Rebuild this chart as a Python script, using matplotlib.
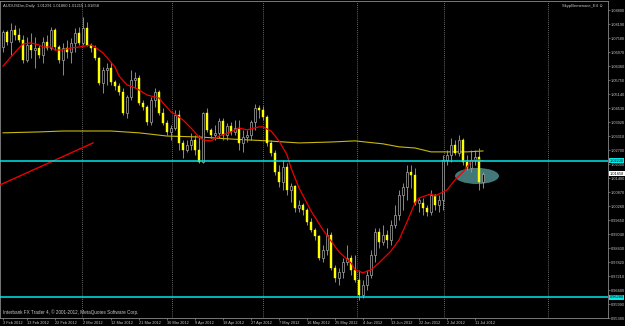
import matplotlib
matplotlib.use('Agg')
import matplotlib.pyplot as plt
from matplotlib.patches import Rectangle, Ellipse

matplotlib.rc('font', family=['Liberation Sans', 'DejaVu Sans'], size=3.0)

# daily AUDUSD candles, 3 Feb 2012 .. 13 Jul 2012
opens = [1.0719, 1.0785, 1.0741, 1.0793, 1.0772, 1.0750, 1.0663, 1.0728, 1.0706, 1.0715,
         1.0684, 1.0741, 1.0715, 1.0793, 1.0719, 1.0663, 1.0715, 1.0697, 1.0737, 1.0780,
         1.0737, 1.0802, 1.0728, 1.0715, 1.0671, 1.0562, 1.0619, 1.0628, 1.0567, 1.0549,
         1.0523, 1.0432, 1.0501, 1.0575, 1.0584, 1.0475, 1.0458, 1.0392, 1.0488, 1.0523,
         1.0432, 1.0388, 1.0349, 1.0366, 1.0423, 1.0301, 1.0270, 1.0292, 1.0314, 1.0270,
         1.0218, 1.0432, 1.0358, 1.0336, 1.0345, 1.0397, 1.0336, 1.0375, 1.0349, 1.0366,
         1.0301, 1.0327, 1.0336, 1.0392, 1.0453, 1.0445, 1.0414, 1.0301, 1.0257, 1.0175,
         1.0131, 1.0196, 1.0096, 1.0114, 1.0018, 1.0031, 1.0009, 0.9957, 0.9922, 0.9896,
         0.9800, 0.9835, 0.9900, 0.9756, 0.9713, 0.9739, 0.9782, 0.9800, 0.9748, 0.9704,
         0.9639, 0.9682, 0.9726, 0.9813, 0.9913, 0.9870, 0.9900, 0.9878, 0.9944, 0.9987,
         1.0074, 1.0109, 1.0175, 1.0162, 1.0040, 1.0040, 1.0018, 1.0000, 1.0074, 1.0031,
         1.0053, 1.0227, 1.0249, 1.0292, 1.0257, 1.0314, 1.0218, 1.0192, 1.0227, 1.0240,
         1.0131]
highs = [1.0793, 1.0793, 1.0824, 1.0815, 1.0802, 1.0772, 1.0763, 1.0780, 1.0763, 1.0728,
         1.0763, 1.0772, 1.0806, 1.0802, 1.0728, 1.0737, 1.0750, 1.0758, 1.0802, 1.0806,
         1.0850, 1.0828, 1.0737, 1.0728, 1.0676, 1.0632, 1.0650, 1.0654, 1.0575, 1.0562,
         1.0541, 1.0510, 1.0619, 1.0610, 1.0597, 1.0488, 1.0467, 1.0501, 1.0541, 1.0532,
         1.0453, 1.0401, 1.0379, 1.0445, 1.0445, 1.0314, 1.0314, 1.0345, 1.0336, 1.0336,
         1.0436, 1.0453, 1.0366, 1.0379, 1.0410, 1.0410, 1.0388, 1.0392, 1.0401, 1.0401,
         1.0358, 1.0358, 1.0401, 1.0471, 1.0467, 1.0462, 1.0423, 1.0314, 1.0270, 1.0205,
         1.0227, 1.0214, 1.0127, 1.0118, 1.0053, 1.0040, 1.0018, 0.9974, 0.9931, 0.9900,
         0.9857, 0.9931, 0.9913, 0.9769, 0.9756, 0.9800, 0.9857, 0.9813, 0.9813, 0.9748,
         0.9704, 0.9748, 0.9835, 0.9931, 0.9931, 0.9944, 0.9922, 0.9965, 1.0031, 1.0096,
         1.0127, 1.0205, 1.0205, 1.0192, 1.0061, 1.0061, 1.0031, 1.0096, 1.0079, 1.0074,
         1.0249, 1.0270, 1.0323, 1.0314, 1.0336, 1.0323, 1.0249, 1.0270, 1.0270, 1.0279,
         1.0175]
lows = [1.0697, 1.0728, 1.0684, 1.0750, 1.0741, 1.0650, 1.0654, 1.0671, 1.0628, 1.0671,
        1.0650, 1.0706, 1.0706, 1.0706, 1.0650, 1.0597, 1.0671, 1.0650, 1.0697, 1.0728,
        1.0728, 1.0724, 1.0697, 1.0663, 1.0554, 1.0519, 1.0554, 1.0554, 1.0532, 1.0510,
        1.0423, 1.0410, 1.0488, 1.0541, 1.0467, 1.0445, 1.0379, 1.0379, 1.0458, 1.0423,
        1.0379, 1.0336, 1.0314, 1.0358, 1.0270, 1.0236, 1.0262, 1.0270, 1.0249, 1.0214,
        1.0214, 1.0349, 1.0323, 1.0314, 1.0323, 1.0314, 1.0314, 1.0336, 1.0336, 1.0270,
        1.0262, 1.0305, 1.0314, 1.0358, 1.0410, 1.0401, 1.0288, 1.0244, 1.0162, 1.0109,
        1.0096, 1.0074, 1.0044, 1.0000, 1.0000, 0.9987, 0.9944, 0.9913, 0.9878, 0.9791,
        0.9782, 0.9813, 0.9748, 0.9695, 0.9682, 0.9713, 0.9769, 0.9726, 0.9695, 0.9617,
        0.9626, 0.9660, 0.9713, 0.9782, 0.9843, 0.9857, 0.9843, 0.9857, 0.9931, 0.9965,
        1.0009, 1.0053, 1.0105, 1.0031, 1.0000, 0.9987, 0.9983, 0.9987, 1.0009, 1.0000,
        1.0009, 1.0205, 1.0218, 1.0249, 1.0244, 1.0205, 1.0183, 1.0175, 1.0205, 1.0096,
        1.0105]
closes = [1.0785, 1.0741, 1.0793, 1.0772, 1.0750, 1.0663, 1.0728, 1.0706, 1.0715, 1.0684,
          1.0741, 1.0715, 1.0793, 1.0719, 1.0663, 1.0715, 1.0697, 1.0737, 1.0780, 1.0737,
          1.0802, 1.0728, 1.0715, 1.0671, 1.0562, 1.0619, 1.0628, 1.0567, 1.0549, 1.0523,
          1.0432, 1.0501, 1.0575, 1.0584, 1.0475, 1.0458, 1.0392, 1.0488, 1.0523, 1.0432,
          1.0388, 1.0349, 1.0366, 1.0423, 1.0301, 1.0270, 1.0292, 1.0314, 1.0270, 1.0218,
          1.0432, 1.0358, 1.0336, 1.0345, 1.0397, 1.0336, 1.0375, 1.0349, 1.0366, 1.0301,
          1.0327, 1.0336, 1.0392, 1.0453, 1.0445, 1.0414, 1.0301, 1.0257, 1.0175, 1.0131,
          1.0196, 1.0096, 1.0114, 1.0018, 1.0031, 1.0009, 0.9957, 0.9922, 0.9896, 0.9800,
          0.9835, 0.9900, 0.9756, 0.9713, 0.9739, 0.9782, 0.9800, 0.9748, 0.9704, 0.9639,
          0.9682, 0.9726, 0.9813, 0.9913, 0.9870, 0.9900, 0.9878, 0.9944, 0.9987, 1.0074,
          1.0109, 1.0175, 1.0162, 1.0040, 1.0053, 1.0018, 1.0000, 1.0074, 1.0031, 1.0053,
          1.0227, 1.0249, 1.0292, 1.0257, 1.0314, 1.0218, 1.0192, 1.0227, 1.0240, 1.0131,
          1.0166]

# red moving average (bar index, value)
ma_fast_bars = [0, 2, 4, 5, 7, 9, 10, 12, 13, 15, 17, 19, 22, 23, 25, 28, 29, 31, 33, 34,
                36, 38, 39, 40, 42, 43, 45, 47, 49, 50, 52, 54, 57, 59, 61, 64, 65, 67, 69, 71,
                72, 74, 77, 80, 82, 84, 87, 88, 90, 92, 94, 97, 99, 101, 103, 104, 107, 108, 110, 111,
                113, 115, 116, 117, 118, 119, 120]
ma_fast = [1.0636, 1.0676, 1.0715, 1.0732, 1.0737, 1.0728, 1.0719, 1.0719, 1.0706, 1.0706,
           1.0715, 1.0719, 1.0728, 1.0719, 1.0693, 1.0632, 1.0593, 1.0554, 1.0541, 1.0532,
           1.0510, 1.0501, 1.0497, 1.0475, 1.0436, 1.0427, 1.0401, 1.0366, 1.0327, 1.0314,
           1.0310, 1.0331, 1.0349, 1.0366, 1.0358, 1.0371, 1.0371, 1.0353, 1.0310, 1.0249,
           1.0192, 1.0105, 1.0005, 0.9922, 0.9874, 0.9826, 0.9778, 0.9748, 0.9735, 0.9748,
           0.9778, 0.9830, 0.9878, 0.9957, 1.0040, 1.0061, 1.0079, 1.0070, 1.0087, 1.0096,
           1.0140, 1.0175, 1.0196, 1.0223, 1.0227, 1.0227, 1.0223]

# yellow long moving average
ma_slow_bars = [0, 9, 15, 27, 34, 41, 49, 57, 66, 74, 82, 88, 95, 99, 103, 107, 112, 116, 120]
ma_slow = [1.0345, 1.0349, 1.0353, 1.0353, 1.0345, 1.0331, 1.0327, 1.0318, 1.0310, 1.0301,
           1.0305, 1.0310, 1.0297, 1.0284, 1.0279, 1.0262, 1.0262, 1.0262, 1.0266]

levels = [1.0223, 0.9628]
level_labels = ['1.02230', '0.96280']
last_label = '1.01658'
trend_bars = [-0.75, 22.5]
trend_prices = [1.0118, 1.0301]
separators = [19.75, 42.25, 65, 88.5, 110.25, 136.25]

date_bars = [0, 6, 13, 20, 27, 34, 41, 48, 55, 62, 69, 76, 83, 90, 97, 104, 111, 118]
date_labels = ['3 Feb 2012', '13 Feb 2012', '22 Feb 2012', '2 Mar 2012', '12 Mar 2012',
               '21 Mar 2012', '30 Mar 2012', '9 Apr 2012', '18 Apr 2012', '27 Apr 2012',
               '7 May 2012', '16 May 2012', '25 May 2012', '4 Jun 2012', '13 Jun 2012',
               '22 Jun 2012', '2 Jul 2012', '11 Jul 2012']
price_labels = ['1.08800', '1.08190', '1.07580', '1.06970', '1.06360', '1.05750', '1.05140',
                '1.04530', '1.03920', '1.03310', '1.02700', '1.02090', '1.01480', '1.00870',
                '1.00260', '0.99650', '0.99040', '0.98430', '0.97820', '0.97210', '0.96600',
                '0.95990', '0.95380']

fig = plt.figure(figsize=(6.25, 3.26), dpi=100, facecolor='black')
ax = fig.add_axes([0, 8 / 326, 608 / 625, 317 / 326])
ax.set_facecolor('black')
ax.set_xlim(-0.75, 151.25)
ax.set_ylim(0.95385, 1.09196)

ax.add_patch(Ellipse((118.5, 1.0157), width=11, height=0.0070, facecolor='#427878',
                     edgecolor='none', zorder=1))

for s in separators:
    ax.axvline(s, color='#8a8a8a', lw=0.6, ls=(0, (1, 1.5)), zorder=1)

ax.plot(ma_slow_bars, ma_slow, color='#c8b80c', lw=0.8, zorder=2)

for i in range(len(closes)):
    o, h, l, c = opens[i], highs[i], lows[i], closes[i]
    ax.vlines(i, l, h, color='#a0a0a0', lw=0.6, zorder=3)
    if c < o:
        ax.add_patch(Rectangle((i - 0.35, c), 0.7, o - c, facecolor='#ffff00',
                               edgecolor='#ffff00', lw=0.3, zorder=4))
    else:
        ax.add_patch(Rectangle((i - 0.35, o), 0.7, max(c - o, 0.0002), facecolor='black',
                               edgecolor='#a8a8a8', lw=0.5, zorder=4))

ax.plot(ma_fast_bars, ma_fast, color='#ee0000', lw=0.9, zorder=5)
ax.plot(trend_bars, trend_prices, color='#ee0000', lw=1.0, zorder=5)
for lv in levels:
    ax.axhline(lv, color='#00e8e8', lw=1.1, zorder=6)

ax.yaxis.tick_right()
ax.set_yticks([float(p) for p in price_labels])
ax.set_yticklabels(price_labels)
ax.set_xticks(date_bars)
ax.set_xticklabels(date_labels, ha='left')
ax.tick_params(colors='#8a8a8a', labelcolor='#c8c8c8', length=1.5, width=0.5, pad=0.6,
               labelsize=2.8)
for sp in ax.spines.values():
    sp.set_color('#8a8a8a')
    sp.set_linewidth(0.6)

for lv, lab in zip(levels, level_labels):
    ax.text(1.003, lv, lab, transform=ax.get_yaxis_transform(), va='center', ha='left',
            color='black', fontsize=2.8,
            bbox=dict(boxstyle='square,pad=0.15', fc='#00e8e8', ec='none'))
ax.text(1.003, closes[-1], last_label, transform=ax.get_yaxis_transform(), va='center',
        ha='left', color='black', fontsize=2.8,
        bbox=dict(boxstyle='square,pad=0.15', fc='white', ec='none'))

ax.text(0.005, 0.99, 'AUDUSDm,Daily  1.01291 1.01860 1.01215 1.01658', transform=ax.transAxes,
        va='top', ha='left', color='#c8c8c8')
ax.text(0.993, 0.99, 'SkypBemenace_E4 \u263a', transform=ax.transAxes,
        va='top', ha='right', color='#c8c8c8')
ax.text(0.005, 0.008, 'Interbank FX Trader 4, \u00a9 2001-2012, MetaQuotes Software Corp.',
        transform=ax.transAxes, va='bottom', ha='left', color='#c8c8c8', fontsize=3.3)

fig.savefig('out.png', dpi=100, facecolor='black')
